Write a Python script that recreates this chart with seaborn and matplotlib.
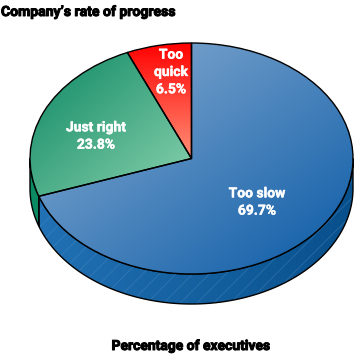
import numpy as np
import matplotlib.pyplot as plt
import matplotlib.patheffects as pe
from matplotlib.colors import LinearSegmentedColormap
from matplotlib.patches import Polygon
import seaborn as sns

# ------------------ DATA ------------------
labels = ["Too slow", "Just right", "Too\nquick"]
values = [69.7, 23.8, 6.5]
title = "Company\u2019s rate of progress"
footer = "Percentage of executives"

# gradient ends: (start, end)
top_colors = [("#8fb1d4", "#0a5aa6"), ("#0c8763", "#8ad3ae"), ("#ff0000", "#ff9077")]
wall_colors = [("#2272b5", "#08508c"), ("#0a8a63", "#0a8a63")]
grad_dirs = [(1, 1), (1, 1), (0, 1)]

# ------------------ LAYOUT (pixels) ------------------
W, H = 360, 355
cx, cy, rx, ry = 191.5, 158.5, 161.5, 115.5
depth = 30 / ry

sns.set_theme(style="white")
plt.rcParams["font.family"] = ["Roboto", "DejaVu Sans"]
plt.rcParams["hatch.linewidth"] = 0.5

fig = plt.figure(figsize=(W / 100, H / 100), dpi=100, facecolor="white")
ax = fig.add_axes([0, 0, 1, 1])


def gradient(clip, colors, box, direction, z):
    cmap = LinearSegmentedColormap.from_list("g", colors)
    xx, yy = np.meshgrid(np.linspace(0, 1, 200), np.linspace(0, 1, 200))
    dx, dy = direction
    im = ax.imshow((dx * xx + dy * yy) / (dx + dy), cmap=cmap, extent=box, origin="upper",
                   aspect="auto", zorder=z, vmin=0, vmax=1)
    im.set_clip_path(clip)


wedges, _ = ax.pie(values, startangle=90, counterclock=False, radius=1,
                   colors=[c[1] for c in top_colors],
                   wedgeprops=dict(edgecolor="black", linewidth=1.0, zorder=3))
ax.set_aspect("auto")

# side wall, front half of the disc only
split = (90 - values[0] * 3.6) % 360
wall_spans = [(split, 360), (180, split)]
for (a0, a1), cols, hatched in zip(wall_spans, wall_colors, [True, False]):
    t = np.radians(np.linspace(a0, a1, 120))
    xs, ys = np.cos(t), np.sin(t)
    pts = np.r_[np.c_[xs, ys], np.c_[xs, ys - depth][::-1]]
    wall = Polygon(pts, closed=True, facecolor="none", edgecolor="none")
    ax.add_patch(wall)
    gradient(wall, cols, (-1, 1, -1 - depth, 0), (1, 0), 1)
    if hatched:
        ax.add_patch(Polygon(pts, closed=True, facecolor="none", edgecolor="#4f8dc4",
                             hatch="//", linewidth=0, alpha=0.5, zorder=1.5))
    ax.add_patch(Polygon(pts, closed=True, facecolor="none", edgecolor="black",
                         linewidth=1.0, zorder=2))

# gradients on the top face, each over its own wedge
for w, cols, d in zip(wedges, top_colors, grad_dirs):
    w.set_facecolor("none")
    t = np.radians(np.linspace(w.theta1, w.theta2, 200))
    bx = np.r_[0, np.cos(t)]
    by = np.r_[0, np.sin(t)]
    gradient(w, cols, (bx.min(), bx.max(), by.min(), by.max()), d, 2.5)

ax.set_xlim(-cx / rx, (W - cx) / rx)
ax.set_ylim((cy - H) / ry, cy / ry)
ax.axis("off")


def px_text(x, y, s, size, color, ha="center", stroke=0.3):
    t = ax.text((x - cx) / rx, (cy - y) / ry, s, fontsize=size, color=color, fontweight="bold",
                ha=ha, va="center", zorder=5, linespacing=1.3)
    t.set_path_effects([pe.withStroke(linewidth=stroke, foreground=color)])
    return t


px_text(1, 12, title, 10.1, "black", ha="left", stroke=0.7)
px_text(191, 346, footer, 10.0, "black", stroke=0.7)

px_text(257, 202, f"{labels[0]}\n{values[0]}%", 10, "white")
px_text(96, 136, f"{labels[1]}\n{values[1]}%", 10, "white")
px_text(171, 72, f"{labels[2]}\n{values[2]}%", 10, "white")

fig.savefig("out.png", dpi=100)
